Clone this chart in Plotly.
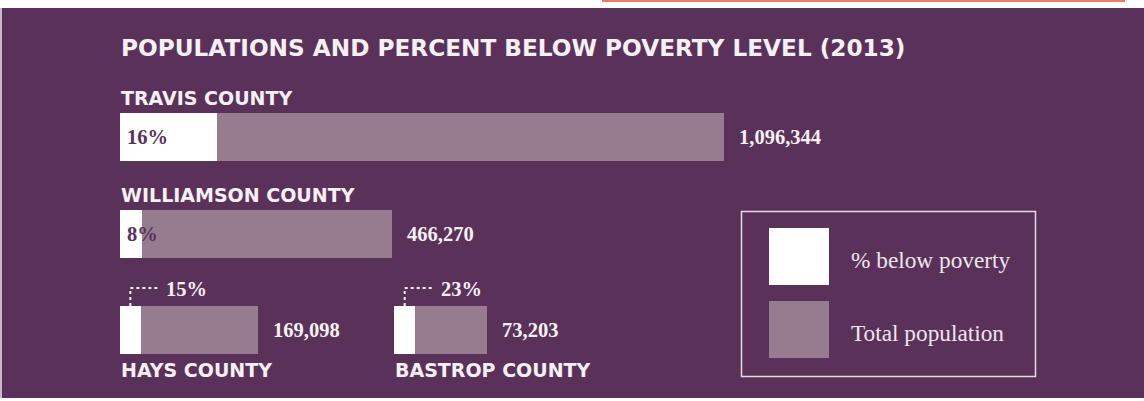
import plotly.graph_objects as go

# ---------------- data ----------------
counties = ["TRAVIS COUNTY", "WILLIAMSON COUNTY", "HAYS COUNTY", "BASTROP COUNTY"]
population = [1096344, 466270, 169098, 73203]
pct_below_poverty = [16, 8, 15, 23]
title_text = "POPULATIONS AND PERCENT BELOW POVERTY LEVEL (2013)"
legend_labels = ["% below poverty", "Total population"]

# ---------------- style ----------------
W, H = 1144, 401
PURPLE = "#5a3259"
PINK = "#977b8e"
WHITE = "#ffffff"
TEXT = "#f6f0f5"
LEG_TEXT = "#efe5ee"
ORANGE = "#f07a62"
STRIP = "#c9b8c8"
SANS = "DejaVu Sans"
SERIF = "Liberation Serif"


def px(x):
    return x / W


def py(y):
    return 1 - y / H


# panel boxes in pixels (left, right, top, bottom), one per county
panels = [(120, 724, 113, 161), (120, 392, 210, 258), (120, 258, 306, 354), (394, 487, 306, 354)]
# county label positions (x left, y centre)
label_pos = [(120, 97.5), (120, 194.5), (120, 370), (394, 370)]
inside_pct = [True, True, False, False]

fig = go.Figure()
layout = dict(
    width=W, height=H, margin=dict(l=0, r=0, t=0, b=0),
    paper_bgcolor="white", plot_bgcolor="rgba(0,0,0,0)",
    barmode="stack", showlegend=False, bargap=0,
)
shapes = [
    dict(type="rect", xref="paper", yref="paper", x0=px(2), x1=1, y0=py(398), y1=py(8),
         fillcolor=PURPLE, line=dict(width=0), layer="below"),
    dict(type="rect", xref="paper", yref="paper", x0=0, x1=px(2), y0=py(398), y1=py(8),
         fillcolor=STRIP, line=dict(width=0), layer="below"),
    dict(type="rect", xref="paper", yref="paper", x0=px(602), x1=px(1125), y0=py(2), y1=1,
         fillcolor=ORANGE, line=dict(width=0), layer="below"),
]
annotations = [
    dict(text=title_text, xref="paper", yref="paper", x=px(119), y=py(47), xanchor="left",
         yanchor="middle", showarrow=False,
         font=dict(family=SANS, size=23.2, color=TEXT, weight="bold")),
]

for i, (name, pop, pct) in enumerate(zip(counties, population, pct_below_poverty)):
    s = "" if i == 0 else str(i + 1)
    xa, ya = "x" + s, "y" + s
    poor = pop * pct / 100.0
    fig.add_trace(go.Bar(x=[poor], y=[0], orientation="h", width=1, xaxis=xa, yaxis=ya,
                         marker=dict(color=WHITE, line=dict(width=0)), name=legend_labels[0]))
    fig.add_trace(go.Bar(x=[pop - poor], y=[0], orientation="h", width=1, xaxis=xa, yaxis=ya,
                         marker=dict(color=PINK, line=dict(width=0)), name=legend_labels[1]))
    l, r, t, b = panels[i]
    layout["xaxis" + s] = dict(domain=[px(l), px(r)], range=[0, pop], visible=False,
                               fixedrange=True, anchor=ya)
    layout["yaxis" + s] = dict(domain=[py(b), py(t)], range=[-0.5, 0.5], visible=False,
                               fixedrange=True, anchor=xa)
    # county name
    lx, ly = label_pos[i]
    annotations.append(dict(text=name, xref="paper", yref="paper", x=px(lx - 1), y=py(ly),
                            xanchor="left", yanchor="middle", showarrow=False,
                            font=dict(family=SANS, size=19, color=TEXT, weight="bold")))
    # population value
    annotations.append(dict(text=f"<b>{pop:,}</b>", xref=xa, yref=ya, x=pop, y=0, xshift=13,
                            xanchor="left", yanchor="middle", showarrow=False,
                            font=dict(family=SERIF, size=20.5, color=TEXT)))
    # percentage
    if inside_pct[i]:
        annotations.append(dict(text=f"<b>{pct}%</b>", xref=xa, yref=ya, x=0, y=0, xshift=5,
                                xanchor="left", yanchor="middle", showarrow=False,
                                font=dict(family=SERIF, size=20.5, color=PURPLE)))
    else:
        # dotted elbow connector from the white segment up to the label
        xc = poor / 2
        units_per_px = pop / (r - l)
        xe = xc + 29 * units_per_px
        y_top = py(t)
        y_elb = py(t - 18)
        shapes.append(dict(type="line", xref=xa, yref="paper", x0=xc, x1=xc, y0=y_top, y1=y_elb,
                           line=dict(color=TEXT, width=2, dash="dot")))
        shapes.append(dict(type="line", xref=xa, yref="paper", x0=xc, x1=xe, y0=y_elb, y1=y_elb,
                           line=dict(color=TEXT, width=2, dash="dot")))
        annotations.append(dict(text=f"<b>{pct}%</b>", xref=xa, yref="paper", x=xc,
                                y=py(t - 17), xshift=34, xanchor="left", yanchor="middle",
                                showarrow=False, font=dict(family=SERIF, size=20.5, color=TEXT)))

# legend (drawn manually)
shapes.append(dict(type="rect", xref="paper", yref="paper", x0=px(741.5), x1=px(1035.5),
                   y0=py(376.5), y1=py(211.5), line=dict(color="#e4dae3", width=1.5)))
for j, (col, lab) in enumerate(zip([WHITE, PINK], legend_labels)):
    top = 228 + j * 73
    shapes.append(dict(type="rect", xref="paper", yref="paper", x0=px(769), x1=px(829),
                       y0=py(top + 57), y1=py(top), fillcolor=col, line=dict(width=0)))
    annotations.append(dict(text=lab, xref="paper", yref="paper", x=px(849), y=py(top + 32),
                            xanchor="left", yanchor="middle", showarrow=False,
                            font=dict(family=SERIF, size=23.3, color=LEG_TEXT)))

layout["shapes"] = shapes
layout["annotations"] = annotations
fig.update_layout(**layout)
fig.write_html("out.html", post_script="document.body.style.margin='0';",
               config={"displayModeBar": False})
